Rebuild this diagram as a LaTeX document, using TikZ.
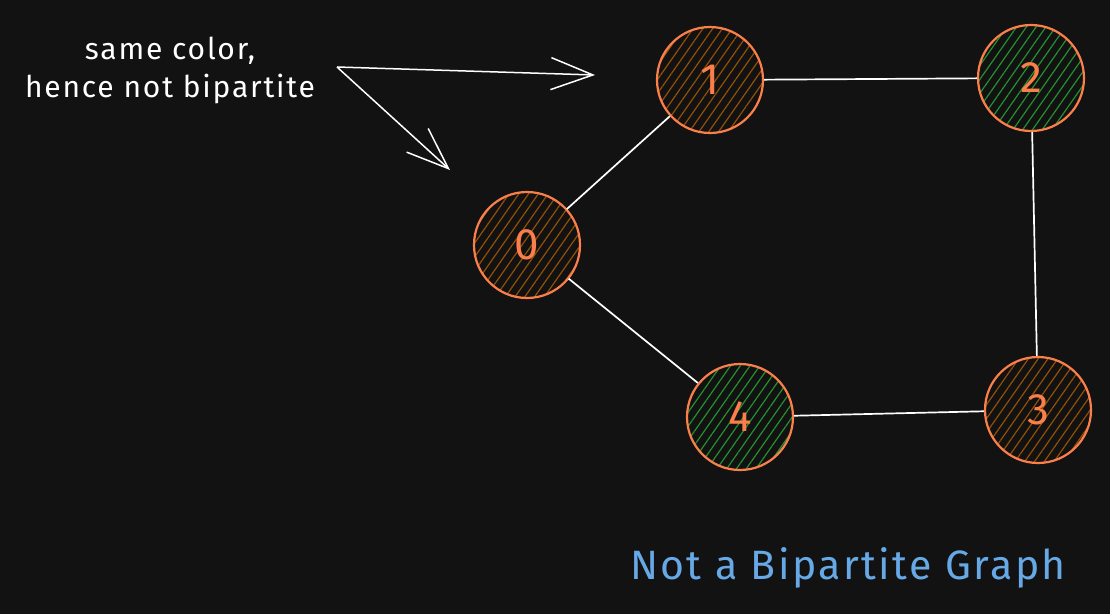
\documentclass[tikz,border=0pt]{standalone}
\usepackage{fontspec}
\setmainfont{Fira Sans}
\usetikzlibrary{arrows.meta,patterns.meta}
\definecolor{bg}{HTML}{121212}
\definecolor{vertorange}{HTML}{FA7F4B}
\definecolor{hatchbrown}{HTML}{935006}
\definecolor{hatchgreen}{HTML}{24912F}
\definecolor{titleblue}{HTML}{67A9E6}

\begin{document}
\begin{tikzpicture}[x=1pt, y=-1pt,
  vert/.style={circle, draw=vertorange, line width=2.2pt, minimum size=106pt,
    inner sep=0pt, text=vertorange, font=\fontsize{44}{44}\selectfont},
  brownvert/.style={vert, pattern={Lines[angle=55, distance=8pt, line width=1.2pt]},
    pattern color=hatchbrown},
  greenvert/.style={vert, pattern={Lines[angle=55, distance=8pt, line width=1.2pt]},
    pattern color=hatchgreen},
  edge/.style={white!85, line width=1.7pt},
  pointer/.style={white!90, line width=1.5pt,
    -{Straight Barb[length=42pt, width=32pt, line width=1.5pt]}}]

%% background and page size
\fill [bg] (0, 0) rectangle (1110, 614);

%% vertices
\node [brownvert] (v0) at (527, 245) {0};
\node [brownvert] (v1) at (710, 80) {1};
\node [greenvert] (v2) at (1031, 78) {2};
\node [brownvert] (v3) at (1038, 410) {3};
\node [greenvert] (v4) at (740, 417) {4};

%% edges of the cycle
\draw [edge] (v0) -- (v1);
\draw [edge] (v1) -- (v2);
\draw [edge] (v2) -- (v3);
\draw [edge] (v3) -- (v4);
\draw [edge] (v4) -- (v0);

% note on the same colour
\node [white!92, align=center,
  font=\fontsize{30}{38}\selectfont\addfontfeature{LetterSpace=6}] (note) at (170, 70)
  {same color,\\ hence not bipartite};
\coordinate (fork) at (337, 67);
\coordinate (tipa) at (595, 75);
\coordinate (tipb) at (450, 170);
\draw [pointer] (fork) -- (tipa);
\draw [pointer] (fork) -- (tipb);

% title
\node [titleblue, font=\fontsize{41}{41}\selectfont\addfontfeature{LetterSpace=6}]
  (title) at (848, 568) {Not a Bipartite Graph};

\end{tikzpicture}
\end{document}
